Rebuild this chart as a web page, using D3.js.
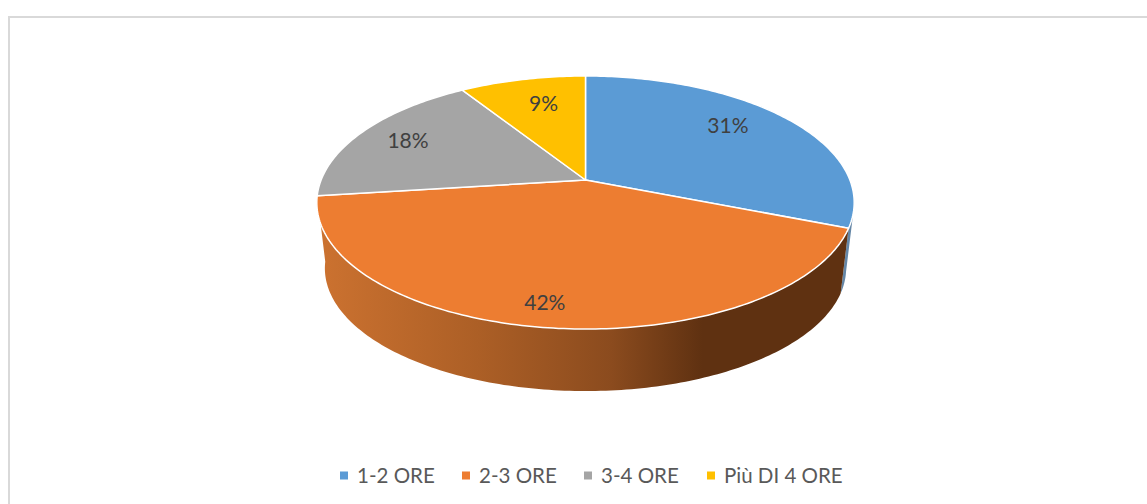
<!DOCTYPE html>
<html>
<head>
<script src="https://cdnjs.cloudflare.com/ajax/libs/d3/7.8.5/d3.min.js"></script>
  <meta charset="utf-8">
  <title>Ore</title>
  <style>
    html, body { margin: 0; padding: 0; background: #fff; overflow: hidden; }
    svg { display: block; }
  </style>
</head>
<body>
<script type="text/javascript">

// data
var categories = ["1-2 ORE", "2-3 ORE", "3-4 ORE", "Più DI 4 ORE"];
var values = [31, 42, 18, 9];
var colors = ["#5b9bd5", "#ed7d31", "#a5a5a5", "#ffc000"];

// layout
var w = 1147, h = 504;
var hubX = 585.5, hubY = 180;
var radX = 264.4, radY = 122.5, persp = 0.178;
var lowScale = 0.97, lowHubY = 246.5;
var labelFrac = [0.76, 0.84, 0.8, 0.68];
var labelDx = [-12, -8, 3, 3];
var labelDy = [-6, 3, 0, -5];
var legendSwatchX = [340, 462, 584, 707];
var legendY = 475.5;

var svg = d3.select("body").append("svg")
  .attr("width", w)
  .attr("height", h);

var color = d3.scaleOrdinal().domain(categories).range(colors);

var pie = d3.pie().sort(null);
var arcs = pie(values);

// tilted circle: hub is off the middle of the ellipse because of the perspective
function project(angle, frac, scale, cy) {
  var u = Math.sin(angle) * frac, v = -Math.cos(angle) * frac;
  var d = 1 - persp * v;
  return [hubX + scale * radX * u / d, cy + scale * radY * v / d];
}
function samples(a0, a1) {
  var n = Math.max(2, Math.ceil((a1 - a0) * 60));
  return d3.range(n + 1).map(function(i) { return a0 + (a1 - a0) * i / n; });
}
var line = d3.line();

// wall gradient
var defs = svg.append("defs");
var grad = defs.append("linearGradient")
  .attr("id", "wall")
  .attr("gradientUnits", "userSpaceOnUse")
  .attr("x1", 318).attr("x2", 852).attr("y1", 0).attr("y2", 0);
grad.append("stop").attr("offset", "0%").attr("stop-color", "#cc7230");
grad.append("stop").attr("offset", "30%").attr("stop-color", "#ac5f26");
grad.append("stop").attr("offset", "55%").attr("stop-color", "#8b4b1e");
grad.append("stop").attr("offset", "72%").attr("stop-color", "#5f3111");
grad.append("stop").attr("offset", "100%").attr("stop-color", "#5f3111");

// frame
svg.append("rect").attr("x", 8).attr("y", 16).attr("width", 2).attr("height", h - 16).attr("fill", "#d9d9d9");
svg.append("rect").attr("x", 8).attr("y", 16).attr("width", w - 8).attr("height", 2).attr("fill", "#d9d9d9");

// side walls: blue sliver first, orange in front of it
function wallPath(a0, a1) {
  var as = samples(a0, a1);
  var top = as.map(function(a) { return project(a, 1, 1, hubY); });
  var low = as.slice().reverse().map(function(a) { return project(a, 1, lowScale, lowHubY); });
  return line(top.concat(low)) + "Z";
}
svg.append("path")
  .attr("d", wallPath(arcs[0].endAngle - 0.17, arcs[0].endAngle))
  .attr("fill", "#6486a6");
svg.append("path")
  .attr("d", wallPath(arcs[1].startAngle, arcs[1].endAngle))
  .attr("fill", "url(#wall)");

// top slices
svg.selectAll("path.slice")
  .data(arcs)
  .enter()
  .append("path")
  .attr("class", "slice")
  .attr("d", function(d) {
    var pts = samples(d.startAngle, d.endAngle).map(function(a) { return project(a, 1, 1, hubY); });
    return line([[hubX, hubY]].concat(pts)) + "Z";
  })
  .attr("fill", function(d, i) { return color(categories[i]); })
  .attr("stroke", "#fff")
  .attr("stroke-width", 1.5)
  .attr("stroke-linejoin", "round");

// percent labels
svg.selectAll("text.pct")
  .data(arcs)
  .enter()
  .append("text")
  .attr("class", "pct")
  .attr("x", function(d, i) { return project((d.startAngle + d.endAngle) / 2, labelFrac[i], 1, hubY)[0] + labelDx[i]; })
  .attr("y", function(d, i) { return project((d.startAngle + d.endAngle) / 2, labelFrac[i], 1, hubY)[1] + labelDy[i]; })
  .attr("dy", "0.35em")
  .attr("text-anchor", "middle")
  .attr("font-family", "Lato, sans-serif")
  .attr("font-size", "21px")
  .attr("fill", "#404040")
  .text(function(d) { return d.value + "%"; });

// legend
var legend = svg.selectAll("g.legend")
  .data(categories)
  .enter()
  .append("g")
  .attr("class", "legend")
  .attr("transform", function(d, i) { return "translate(" + legendSwatchX[i] + "," + legendY + ")"; });
legend.append("rect")
  .attr("x", 0).attr("y", -4).attr("width", 8).attr("height", 8)
  .attr("fill", function(d) { return color(d); });
legend.append("text")
  .attr("x", 17)
  .attr("dy", "0.35em")
  .attr("font-family", "Lato, sans-serif")
  .attr("font-size", "20.5px")
  .attr("fill", "#595959")
  .text(function(d) { return d; });
</script>
</body>
</html>
